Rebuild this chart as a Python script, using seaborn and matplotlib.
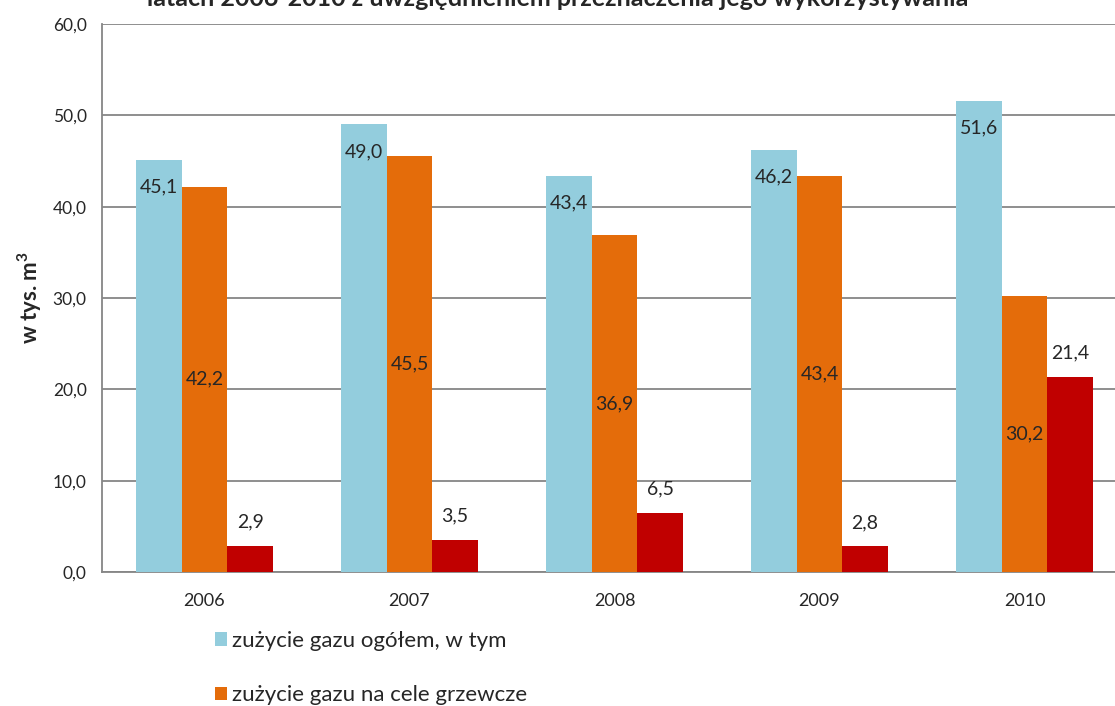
import matplotlib
matplotlib.use("Agg")
import matplotlib.pyplot as plt
from matplotlib.patches import Patch
import seaborn as sns
import pandas as pd

years = ["2006", "2007", "2008", "2009", "2010"]
series_names = [
    "zużycie gazu ogółem, w tym",
    "zużycie gazu na cele grzewcze",
]
total_use = [45.1, 49.0, 43.4, 46.2, 51.6]
heating_use = [42.2, 45.5, 36.9, 43.4, 30.2]
other_use = [2.9, 3.5, 6.5, 2.8, 21.4]
other_name = "zużycie gazu na pozostałe cele"
y_ticks = [0, 10, 20, 30, 40, 50, 60]
title_text = "latach 2006-2010 z uwzględnieniem przeznaczenia jego wykorzystywania"
y_label = "w tys. m$^\\mathregular{3}$"

colors = ["#93CDDD", "#E46C0A", "#C00000"]
all_names = series_names + [other_name]

rows = []
for name, vals in zip(all_names, [total_use, heating_use, other_use]):
    for yr, v in zip(years, vals):
        rows.append({"rok": yr, "seria": name, "wartosc": v})
df = pd.DataFrame(rows)

sns.set_theme(style="white")
plt.rcParams["font.family"] = ["Lato", "DejaVu Sans"]

fig = plt.figure(figsize=(11.15, 7.06), dpi=100)
ax = fig.add_axes([102 / 1115, 1 - 572 / 706, 1025 / 1115, 548 / 706])

sns.barplot(data=df, x="rok", y="wartosc", hue="seria", hue_order=all_names,
            order=years, palette=colors, width=0.667, gap=0, saturation=1,
            edgecolor="none", linewidth=0, legend=False, ax=ax, zorder=3)

ax.set_xlim(-0.5, 4.5)
ax.set_ylim(0, 60)
ax.set_yticks(y_ticks)
ax.set_yticklabels([f"{t:.1f}".replace(".", ",") for t in y_ticks], fontsize=12.5)
ax.set_xticks(range(len(years)))
ax.set_xticklabels(years, fontsize=13)
ax.tick_params(axis="x", length=0, pad=15)
ax.tick_params(axis="y", length=6, width=1.3, color="#868686", direction="out", pad=5)
# category separators on the x axis
ax.set_xticks([i + 0.5 for i in range(len(years) - 1)], minor=True)
ax.tick_params(axis="x", which="minor", length=7, width=1.3, color="#868686", direction="out")

ax.yaxis.grid(True, color="#868686", linewidth=1.3, zorder=0)
ax.set_axisbelow(True)
for side in ["top", "right"]:
    ax.spines[side].set_visible(False)
for side in ["left", "bottom"]:
    ax.spines[side].set_color("#868686")
    ax.spines[side].set_linewidth(1.3)

ax.set_xlabel("")
ax.set_ylabel(y_label, fontsize=16, fontweight="bold", labelpad=6)

def fmt(v):
    return f"{v:.1f}".replace(".", ",")

# value labels: inside end, centre, outside end
containers = ax.containers
for bar, v in zip(containers[0], total_use):
    x = bar.get_x() + bar.get_width() / 2
    ax.annotate(fmt(v), (x, v), xytext=(0, -27), textcoords="offset pixels",
                ha="center", va="center", fontsize=14, zorder=5)
for bar, v in zip(containers[1], heating_use):
    x = bar.get_x() + bar.get_width() / 2
    ax.annotate(fmt(v), (x, v / 2), ha="center", va="center", fontsize=14, zorder=5)
for bar, v in zip(containers[2], other_use):
    x = bar.get_x() + bar.get_width() / 2
    ax.annotate(fmt(v), (x, v), xytext=(0, 24), textcoords="offset pixels",
                ha="center", va="center", fontsize=14, zorder=5)

fig.text(0.5, 1 - 6 / 706, title_text, ha="center", va="baseline",
         fontsize=18, fontweight="bold")

handles = [Patch(facecolor=c, edgecolor="none") for c in colors[:2]]
fig.legend(handles, series_names, loc="upper left",
           bbox_to_anchor=(206 / 1115, 1 - 622 / 706), frameon=False,
           fontsize=16, handlelength=0.55, handleheight=0.55, handletextpad=0.2,
           labelspacing=1.55, borderaxespad=0)

fig.savefig("out.png", dpi=100)
